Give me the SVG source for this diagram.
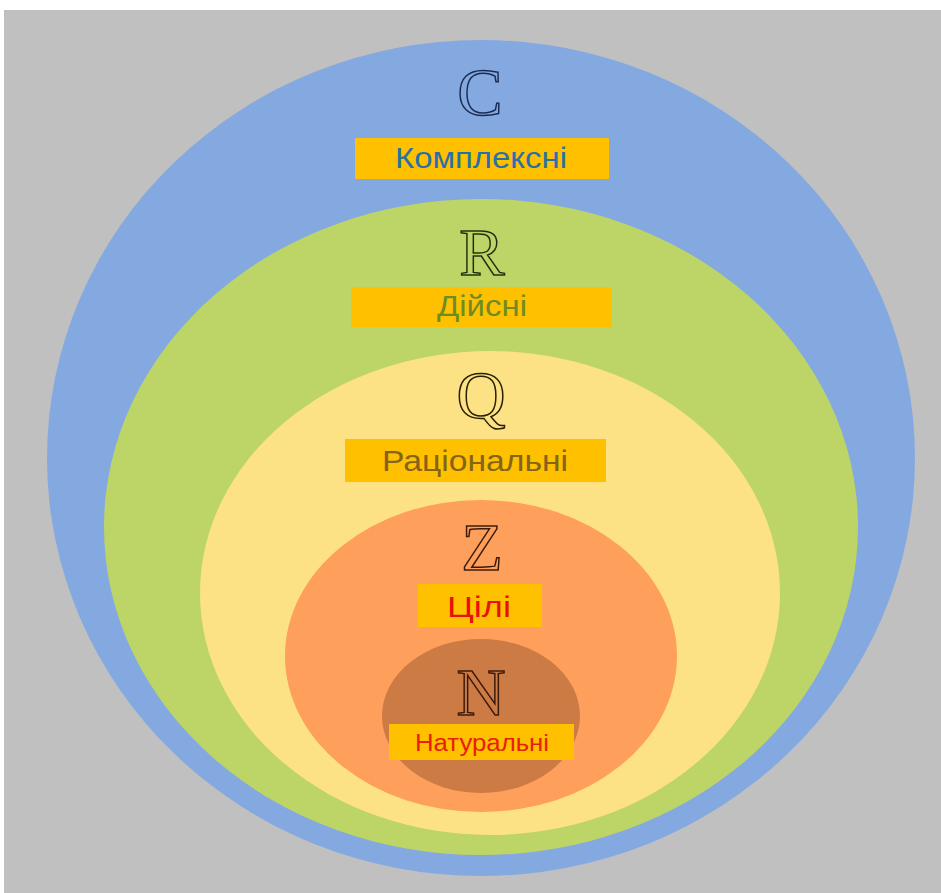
<svg xmlns="http://www.w3.org/2000/svg" width="941" height="893" viewBox="0 0 941 893">
<style>
.sym{font-family:"Liberation Serif","Times New Roman",serif;font-size:68px;fill:none;stroke-width:1.5;text-anchor:middle}
.box{fill:#FFC000}
.lbl{font-family:"Liberation Sans",Arial,sans-serif;text-anchor:middle;font-size:30px}
.small{font-size:23px}
</style>
<rect width="941" height="893" fill="#ffffff"/>
<rect x="4" y="10" width="937" height="883" fill="#C0C0C0"/>
<g id="complex">
<ellipse cx="481" cy="458" rx="434" ry="418" fill="#84A9E0"/>
</g>
<g id="real">
<ellipse cx="481" cy="527" rx="377" ry="328" fill="#BDD466"/>
</g>
<g id="rational">
<ellipse cx="490" cy="593" rx="290" ry="242" fill="#FDE285"/>
</g>
<g id="integer">
<ellipse cx="481" cy="656" rx="196" ry="156" fill="#FE9F5C"/>
</g>
<g id="natural">
<ellipse cx="481" cy="716" rx="99" ry="77" fill="#CD7B45"/>
</g>
<g id="complex-label">
<text class="sym" x="480" y="115" stroke="#1A2A50">C</text>
<rect class="box" x="355" y="138" width="254" height="41"/>
<text class="lbl" x="481" y="168" textLength="172" lengthAdjust="spacingAndGlyphs" fill="#2A70A8">Комплексні</text>
</g>
<g id="real-label">
<text class="sym" x="482" y="275" stroke="#1E2E10">R</text>
<rect class="box" x="351" y="287" width="261" height="40"/>
<text class="lbl" x="482" y="316" textLength="90" lengthAdjust="spacingAndGlyphs" fill="#6F8C22">Дійсні</text>
</g>
<g id="rational-label">
<text class="sym" x="481" y="418" stroke="#2A2000">Q</text>
<rect class="box" x="345" y="439" width="261" height="43"/>
<text class="lbl" x="475" y="471" textLength="186" lengthAdjust="spacingAndGlyphs" fill="#846418">Раціональні</text>
</g>
<g id="integer-label">
<text class="sym" x="482" y="570" stroke="#3A1A0A">Z</text>
<rect class="box" x="418" y="584" width="124" height="43"/>
<text class="lbl" x="479" y="617" textLength="64" lengthAdjust="spacingAndGlyphs" fill="#E8100A">Цілі</text>
</g>
<g id="natural-label">
<text class="sym" x="481" y="715" stroke="#3A1A0A">N</text>
<rect class="box" x="389" y="724" width="185" height="36"/>
<text class="lbl small" x="482" y="751" textLength="134" lengthAdjust="spacingAndGlyphs" fill="#E8200A">Натуральні</text>
</g>
</svg>
